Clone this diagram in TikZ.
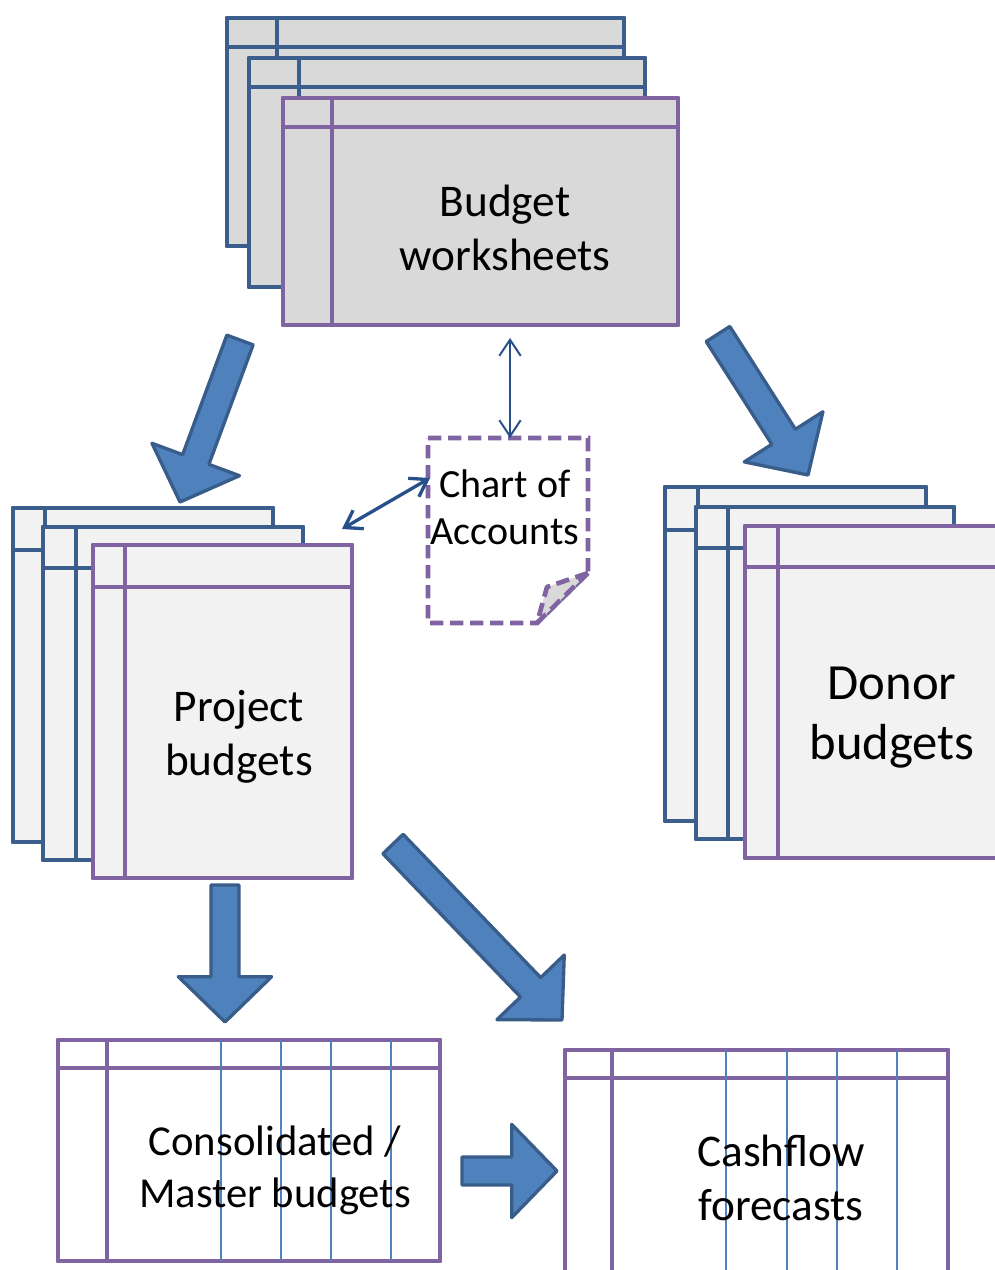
\documentclass[tikz,border=0pt]{standalone}
\usepackage{fontspec}
\setmainfont{Carlito}
\usetikzlibrary{calc,arrows.meta}
\definecolor{sheetblue}{HTML}{3B5E8C}
\definecolor{sheetpurple}{HTML}{8064A2}
\definecolor{darkfill}{HTML}{D9D9D9}
\definecolor{lightfill}{HTML}{F2F2F2}
\definecolor{arrowfill}{HTML}{4F81BD}
\definecolor{arrowline}{HTML}{385D8A}
\definecolor{thinblue}{HTML}{27508A}
\definecolor{gridblue}{HTML}{4F81BD}
\newcommand\basw{10.5pt}
\newcommand\bahw{35pt}
\newcommand\bahl{34pt}
% #1 name, #2 x1, #3 y1, #4 x2, #5 y2, #6 header y, #7 vertical x, #8 line colour, #9 fill colour
\newcommand\sheet[9]{%
  \node[sheetbox,draw=#8,fill=#9,minimum width={((#4)-(#2))*0.75pt},minimum height={((#5)-(#3))*0.75pt}] (#1) at ({((#2)+(#4))/2},{((#3)+(#5))/2}) {};
  \draw[sheetline,draw=#8] (#2,#6) -- (#4,#6) (#7,#3) -- (#7,#5);
  \draw[sheetline,draw=#8] (#1.north west) rectangle (#1.south east);
}
\newcommand\blockarrow[2]{%
  \coordinate (bah) at ($(#2)!\bahl!(#1)$);
  \draw[blockarrowstyle] ($(#1)!\basw!90:(#2)$) -- ($(bah)!\basw!90:(#2)$) -- ($(bah)!\bahw!90:(#2)$) -- (#2) -- ($(bah)!\bahw!-90:(#2)$) -- ($(bah)!\basw!-90:(#2)$) -- ($(#1)!\basw!-90:(#2)$) -- cycle;
}
\begin{document}
\begin{tikzpicture}[x=0.75pt,y=-0.75pt,
  sheetbox/.style={rectangle,line width=3.5pt,inner sep=0pt,outer sep=0pt,line join=round},
  sheetline/.style={line width=3.5pt,line join=round},
  gridline/.style={draw=gridblue,line width=1pt},
  blockarrowstyle/.style={fill=arrowfill,draw=arrowline,line width=2.5pt,line join=round},
  dbl/.style={draw=thinblue,{Straight Barb[length=12pt,width=16pt]}-{Straight Barb[length=12pt,width=16pt]}},
  lbl/.style={align=center,inner sep=0pt,text=black}]
\useasboundingbox (0,0) rectangle (995,1270);
\clip (0,0) rectangle (995,1270);

% Budget worksheets
\sheet{ws1}{227}{18}{624}{246}{47}{277}{sheetblue}{darkfill}
\sheet{ws2}{249}{58}{645}{287}{87}{299}{sheetblue}{darkfill}
\sheet{ws3}{283}{98}{678}{325}{127}{332}{sheetpurple}{darkfill}
\node[lbl,font=\fontsize{34}{40.5}\selectfont] (wstext) at (505,228) {Budget\\worksheets};

% Project budgets
\sheet{pb1}{13}{508}{273}{842}{550}{45}{sheetblue}{lightfill}
\sheet{pb2}{43}{527}{303}{860}{568}{76}{sheetblue}{lightfill}
\sheet{pb3}{93}{545}{352}{878}{587}{125}{sheetpurple}{lightfill}
\node[lbl,font=\fontsize{34}{40.5}\selectfont] (pbtext) at (239,737) {Project\\budgets};

% Donor budgets
\sheet{db1}{665}{487}{926}{821}{530}{698}{sheetblue}{lightfill}
\sheet{db2}{696}{507}{954}{839}{548}{728}{sheetblue}{lightfill}
\sheet{db3}{745}{526}{1010}{858}{567}{778}{sheetpurple}{lightfill}
\node[lbl,font=\fontsize{38}{45}\selectfont] (dbtext) at (892,718) {Donor\\budgets};

% Consolidated / Master budgets
\sheet{cm}{58}{1040}{440}{1261}{1068}{107}{sheetpurple}{white}
\foreach \gx in {221,281,331,391} \draw[gridline] (\gx,1040) -- (\gx,1261);
\node[lbl,font=\fontsize{32}{39}\selectfont] (cmtext) at (275,1170) {Consolidated /\\Master budgets};

% Cashflow forecasts
\sheet{cf}{565}{1050}{948}{1300}{1078}{612}{sheetpurple}{white}
\foreach \gx in {726,787,837,897} \draw[gridline] (\gx,1050) -- (\gx,1300);
\node[lbl,font=\fontsize{34}{41}\selectfont] (cftext) at (781,1178) {Cashflow\\forecasts};

% Chart of Accounts
\node[rectangle,inner sep=0pt,outer sep=0pt,minimum width=120pt,minimum height=138.75pt] (chart) at (508,530.5) {};
\draw[draw=sheetpurple,line width=3.5pt,dash pattern=on 10pt off 5pt,fill=white]
  (chart.north west) -- (chart.north east) -- ([yshift=37.5pt]chart.south east)
  -- ([xshift=-38.25pt]chart.south east) -- (chart.south west) -- cycle;
\draw[draw=sheetpurple,line width=3.5pt,dash pattern=on 10pt off 5pt,fill=darkfill,line join=round]
  ([yshift=37.5pt]chart.south east) -- ([xshift=-30.75pt,yshift=27pt]chart.south east)
  -- ([xshift=-38.25pt]chart.south east) -- cycle;
\node[lbl,font=\fontsize{30}{35}\selectfont] (charttext) at (505,507) {Chart of\\Accounts};

% thin double arrows
\draw[dbl,line width=1.5pt,shorten >=9.75pt] ([xshift=1.5pt]chart.north) -- ([xshift=1.5pt]chart.north |- ws3.south);
\draw[dbl,line width=2.5pt] ([shift={(2,40)}]chart.north west) -- ([shift={(-10,-16)}]pb3.north east);

% block arrows
\coordinate (a1t) at (240,340); \coordinate (a1h) at (180,502);
\coordinate (a2t) at (718,334); \coordinate (a2h) at (808,475);
\coordinate (a3t) at (225,885); \coordinate (a3h) at (225,1022);
\coordinate (a4t) at (393,844); \coordinate (a4h) at (562,1020);
\coordinate (a5t) at (462,1171); \coordinate (a5h) at (557,1171);
\blockarrow{a1t}{a1h}
\blockarrow{a2t}{a2h}
\blockarrow{a3t}{a3h}
\blockarrow{a4t}{a4h}
\blockarrow{a5t}{a5h}
\end{tikzpicture}
\end{document}
